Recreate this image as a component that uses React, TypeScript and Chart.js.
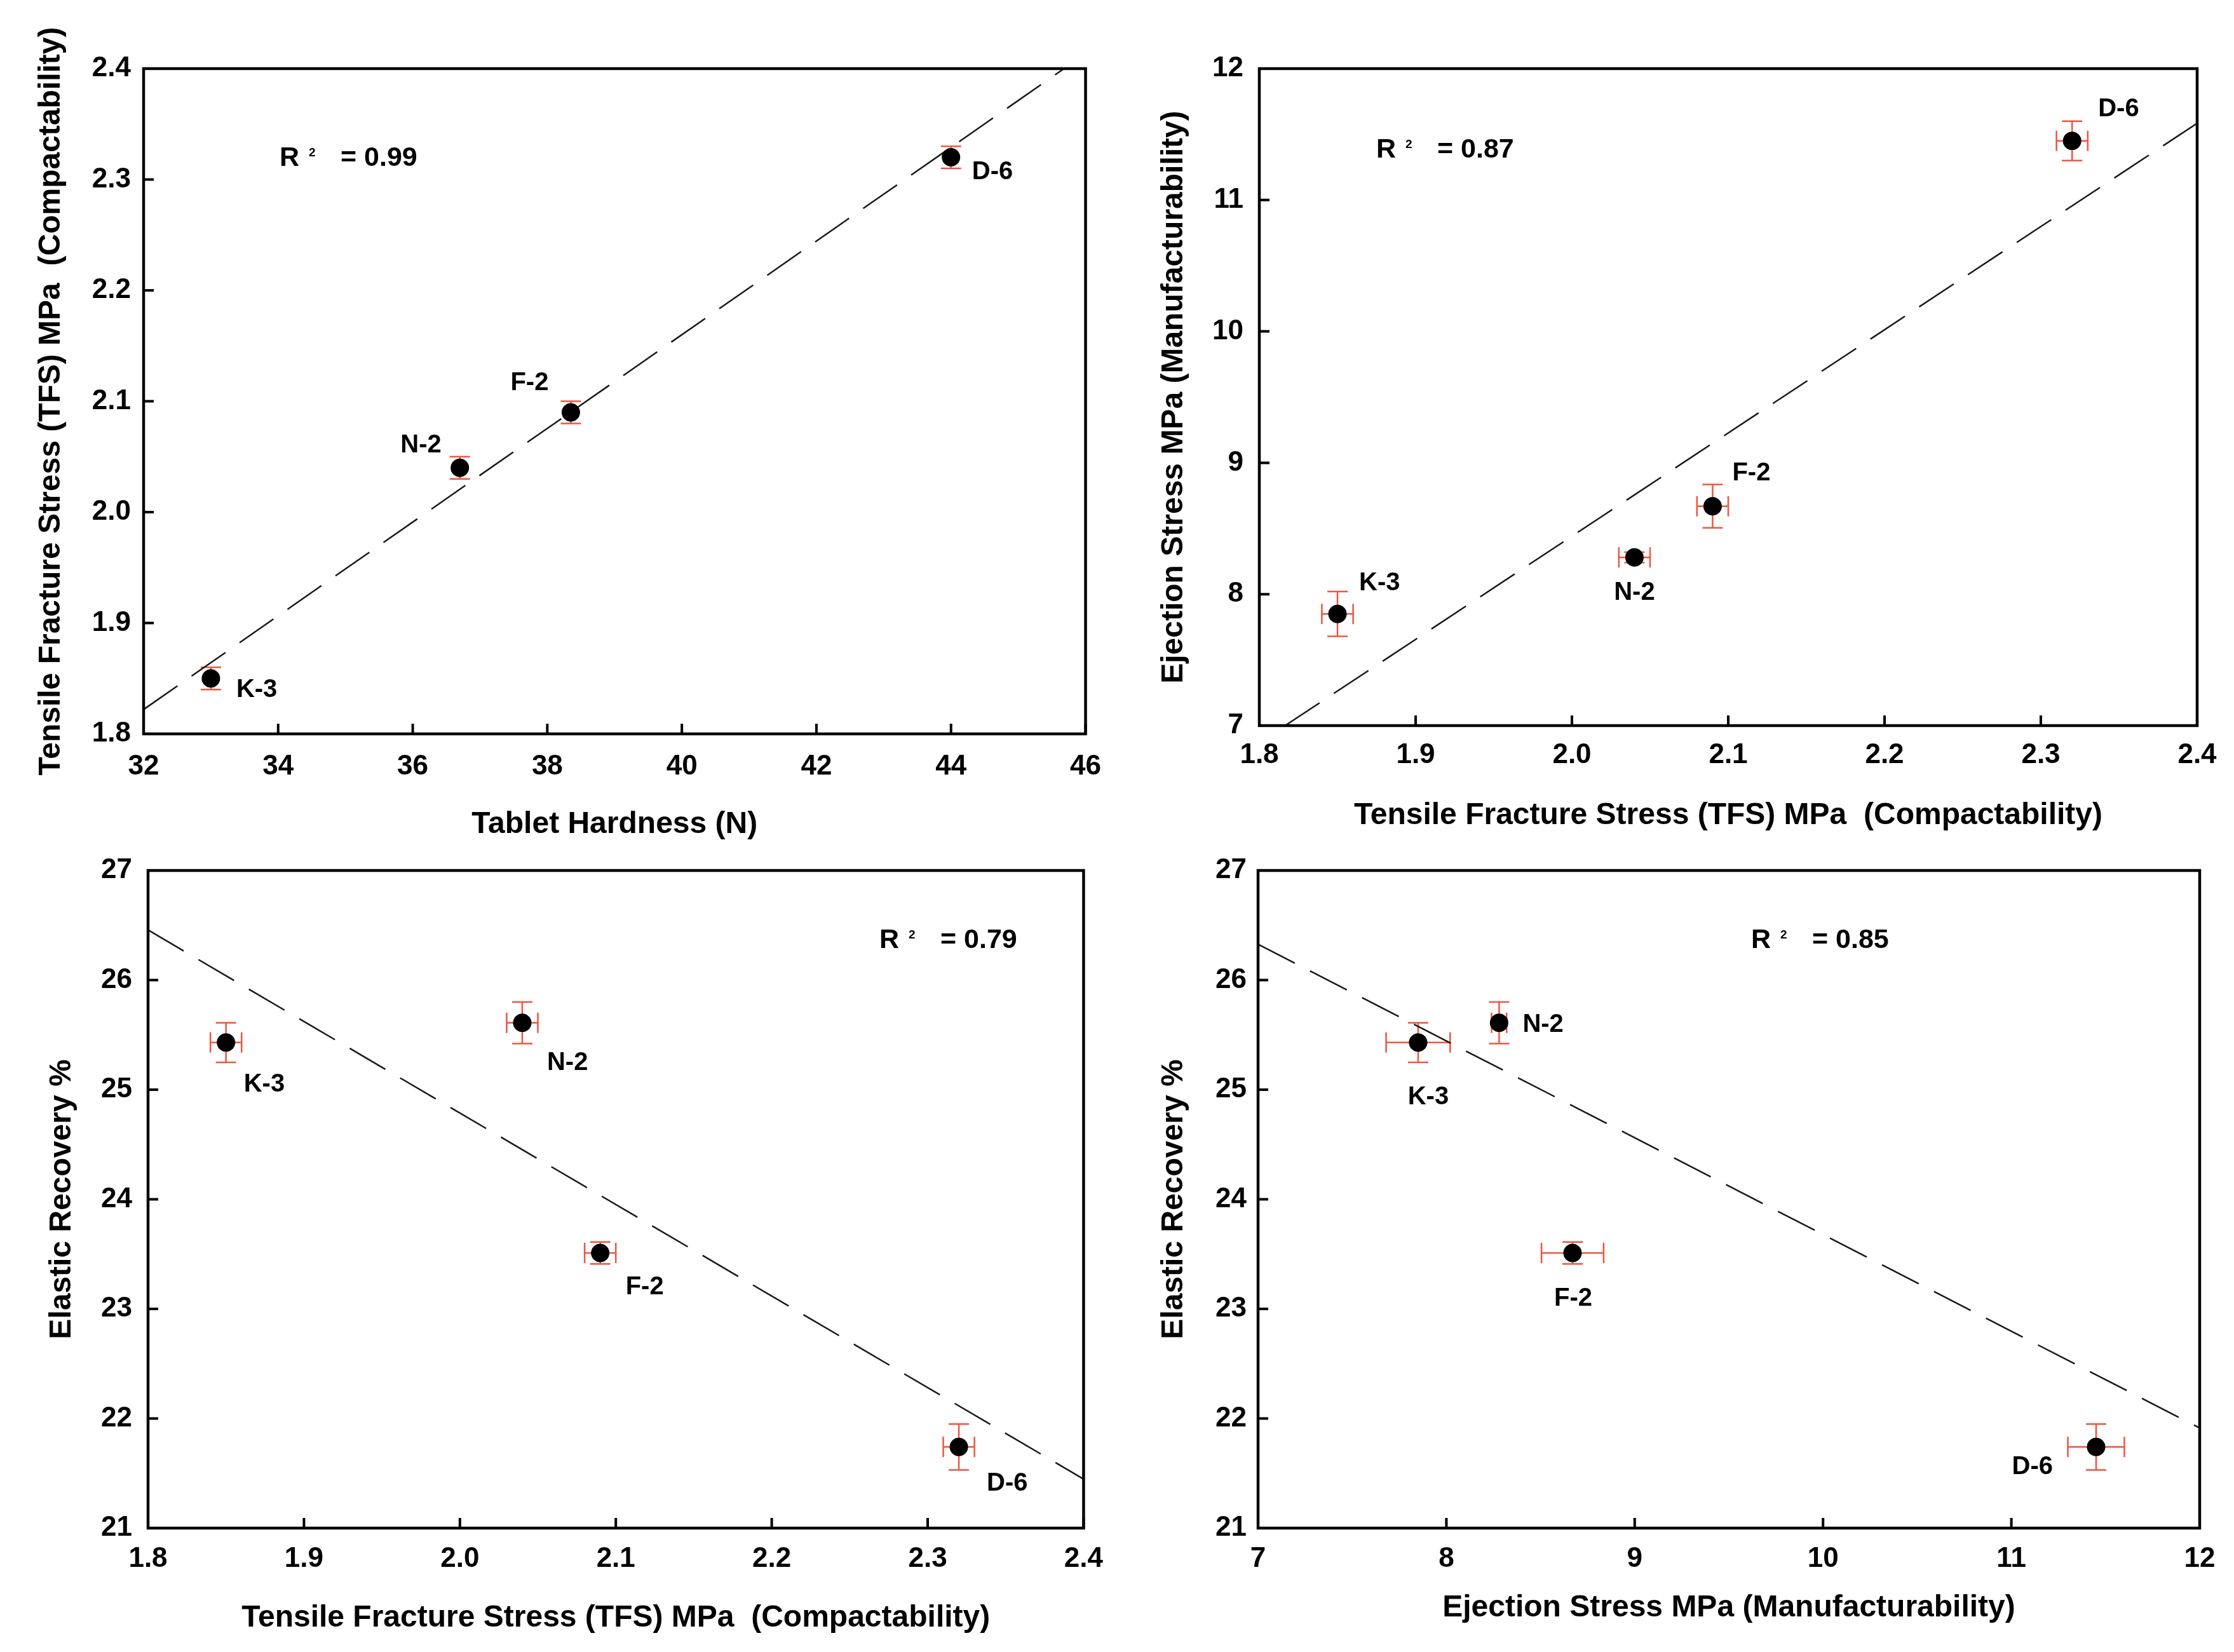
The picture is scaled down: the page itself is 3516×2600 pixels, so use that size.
import React, { useEffect, useRef } from "react";
import { Chart, registerables } from "chart.js";

Chart.register(...registerables);

// ---------- data ----------
const samples = ["K-3", "N-2", "F-2", "D-6"];

const tabletHardness = [33.0, 36.7, 38.35, 44.0];
const tabletHardnessErr = [0, 0, 0, 0];
const tfs = [1.85, 2.04, 2.09, 2.32];
const tfsErr = [0.01, 0.01, 0.01, 0.01];
const ejectionStress = [7.85, 8.28, 8.67, 11.45];
const ejectionStressErr = [0.17, 0.04, 0.165, 0.15];
const elasticRecovery = [25.43, 25.61, 23.51, 21.74];
const elasticRecoveryErr = [0.18, 0.19, 0.1, 0.21];

// dashed regression lines (end points)
const fitA_x = [32, 45.68];
const fitA_y = [1.822, 2.4];
const fitB_x = [1.8165, 2.4];
const fitB_y = [7.0, 11.584];
const fitC_x = [1.8, 2.4];
const fitC_y = [26.457, 21.447];
const fitD_x = [7, 12];
const fitD_y = [26.327, 21.913];

const r2Values = ["0.99", "0.87", "0.79", "0.85"];

const hardnessTicks = [32, 34, 36, 38, 40, 42, 44, 46];
const tfsTicks = [1.8, 1.9, 2.0, 2.1, 2.2, 2.3, 2.4];
const ejectionTicks = [7, 8, 9, 10, 11, 12];
const elasticTicks = [21, 22, 23, 24, 25, 26, 27];

const titleHardness = "Tablet Hardness (N)";
const titleTFS = "Tensile Fracture Stress (TFS) MPa  (Compactability)";
const titleEjection = "Ejection Stress MPa (Manufacturability)";
const titleElastic = "Elastic Recovery %";

type PanelData = {
  xs: number[];
  ys: number[];
  xErr: number[];
  yErr: number[];
  fitX: number[];
  fitY: number[];
  xTicks: number[];
  yTicks: number[];
  xDec: number;
  yDec: number;
  xTitle: string;
  yTitle: string;
  r2: string;
};

const panels: PanelData[] = [
  {
    xs: tabletHardness, ys: tfs, xErr: tabletHardnessErr, yErr: tfsErr,
    fitX: fitA_x, fitY: fitA_y, xTicks: hardnessTicks, yTicks: tfsTicks,
    xDec: 0, yDec: 1, xTitle: titleHardness, yTitle: titleTFS, r2: r2Values[0],
  },
  {
    xs: tfs, ys: ejectionStress, xErr: tfsErr, yErr: ejectionStressErr,
    fitX: fitB_x, fitY: fitB_y, xTicks: tfsTicks, yTicks: ejectionTicks,
    xDec: 1, yDec: 0, xTitle: titleTFS, yTitle: titleEjection, r2: r2Values[1],
  },
  {
    xs: tfs, ys: elasticRecovery, xErr: tfsErr, yErr: elasticRecoveryErr,
    fitX: fitC_x, fitY: fitC_y, xTicks: tfsTicks, yTicks: elasticTicks,
    xDec: 1, yDec: 0, xTitle: titleTFS, yTitle: titleElastic, r2: r2Values[2],
  },
  {
    xs: ejectionStress, ys: elasticRecovery, xErr: ejectionStressErr, yErr: elasticRecoveryErr,
    fitX: fitD_x, fitY: fitD_y, xTicks: ejectionTicks, yTicks: elasticTicks,
    xDec: 0, yDec: 0, xTitle: titleEjection, yTitle: titleElastic, r2: r2Values[3],
  },
];

// ---------- layout / style ----------
type Layout = {
  left: number; top: number; w: number; h: number;
  padTop: number; padRight: number; yW: number; xH: number;
  yTitlePad: number; xTitlePad: number; yTickPad: number; xTickPad: number;
  r2: [number, number];
  labels: [number, number, CanvasTextAlign][];
};

const layouts: Layout[] = [
  {
    left: 0, top: 0, w: 1758, h: 1340, padTop: 108, padRight: 38, yW: 226, xH: 185,
    yTitlePad: 52, xTitlePad: 13, yTickPad: 20, xTickPad: 25, r2: [214, 141],
    labels: [[40, 18, "left"], [-29, -35, "right"], [-35, -46, "right"], [33, 23, "left"]],
  },
  {
    left: 1758, top: 0, w: 1758, h: 1330, padTop: 108, padRight: 58, yW: 224, xH: 188,
    yTitlePad: 61, xTitlePad: 17, yTickPad: 25, xTickPad: 20, r2: [184, 128],
    labels: [[34, -48, "left"], [0, 56, "center"], [31, -52, "left"], [41, -50, "left"]],
  },
  {
    left: 0, top: 1300, w: 1758, h: 1300, padTop: 70, padRight: 46, yW: 233, xH: 195,
    yTitlePad: 69, xTitlePad: 24, yTickPad: 25, xTickPad: 22, r2: [1151, 110],
    labels: [[28, 66, "left"], [39, 63, "left"], [40, 54, "left"], [44, 58, "left"]],
  },
  {
    left: 1758, top: 1300, w: 1758, h: 1300, padTop: 70, padRight: 54, yW: 222, xH: 195,
    yTitlePad: 61, xTitlePad: 40, yTickPad: 18, xTickPad: 22, r2: [776, 110],
    labels: [[16, 86, "center"], [37, 3, "left"], [1, 72, "center"], [-68, 32, "right"]],
  },
];

const FONT = "'Liberation Sans', Arial, Helvetica, sans-serif";
const ERR_COLOR = "#ee5541";
const CAP = 16;
const TICK_LEN = 16;

function PanelChart({ data, layout }: { data: PanelData; layout: Layout }) {
  const ref = useRef<HTMLCanvasElement | null>(null);

  useEffect(() => {
    const canvas = ref.current;
    if (!canvas) return;

    const decorations = {
      id: "decorations",
      beforeDatasetsDraw(chart: any) {
        const { ctx } = chart;
        const xs = chart.scales.x;
        const ys = chart.scales.y;
        ctx.save();
        ctx.strokeStyle = ERR_COLOR;
        ctx.lineWidth = 2.5;
        data.xs.forEach((xv, i) => {
          const yv = data.ys[i];
          const px = xs.getPixelForValue(xv);
          const py = ys.getPixelForValue(yv);
          const ye = data.yErr[i];
          if (ye > 0) {
            const t = ys.getPixelForValue(yv + ye);
            const b = ys.getPixelForValue(yv - ye);
            ctx.beginPath();
            ctx.moveTo(px, t); ctx.lineTo(px, b);
            ctx.moveTo(px - CAP, t); ctx.lineTo(px + CAP, t);
            ctx.moveTo(px - CAP, b); ctx.lineTo(px + CAP, b);
            ctx.stroke();
          }
          const xe = data.xErr[i];
          if (xe > 0) {
            const l = xs.getPixelForValue(xv - xe);
            const r = xs.getPixelForValue(xv + xe);
            ctx.beginPath();
            ctx.moveTo(l, py); ctx.lineTo(r, py);
            ctx.moveTo(l, py - CAP); ctx.lineTo(l, py + CAP);
            ctx.moveTo(r, py - CAP); ctx.lineTo(r, py + CAP);
            ctx.stroke();
          }
        });
        ctx.restore();
      },
      afterDraw(chart: any) {
        const { ctx, chartArea } = chart;
        const xs = chart.scales.x;
        const ys = chart.scales.y;
        ctx.save();
        // frame
        ctx.strokeStyle = "#000";
        ctx.lineWidth = 4.5;
        ctx.strokeRect(chartArea.left, chartArea.top, chartArea.right - chartArea.left, chartArea.bottom - chartArea.top);
        // inward ticks
        ctx.lineWidth = 4;
        ctx.beginPath();
        data.xTicks.forEach((v) => {
          const p = xs.getPixelForValue(v);
          ctx.moveTo(p, chartArea.bottom);
          ctx.lineTo(p, chartArea.bottom - TICK_LEN);
        });
        data.yTicks.forEach((v) => {
          const p = ys.getPixelForValue(v);
          ctx.moveTo(chartArea.left, p);
          ctx.lineTo(chartArea.left + TICK_LEN, p);
        });
        ctx.stroke();

        // R^2 annotation
        ctx.fillStyle = "#000";
        ctx.textBaseline = "middle";
        ctx.textAlign = "left";
        const rx = chartArea.left + layout.r2[0];
        const ry = chartArea.top + layout.r2[1];
        ctx.font = `bold 43px ${FONT}`;
        ctx.fillText("R", rx, ry);
        ctx.font = `bold 19px ${FONT}`;
        ctx.fillText("2", rx + 46, ry - 8);
        ctx.font = `bold 43px ${FONT}`;
        ctx.fillText("= " + data.r2, rx + 96, ry);

        // point labels
        ctx.font = `bold 40px ${FONT}`;
        samples.forEach((s, i) => {
          const [dx, dy, al] = layout.labels[i];
          const px = xs.getPixelForValue(data.xs[i]);
          const py = ys.getPixelForValue(data.ys[i]);
          ctx.textAlign = al;
          ctx.fillText(s, px + dx, py + dy);
        });
        ctx.restore();
      },
    };

    const tickFont = { family: FONT, size: 44, weight: "bold" as const };
    const titleFont = { family: FONT, size: 48, weight: "bold" as const };

    const chart = new Chart(canvas, {
      type: "scatter",
      data: {
        datasets: [
          {
            label: "samples",
            data: data.xs.map((x, i) => ({ x, y: data.ys[i] })),
            backgroundColor: "#000",
            borderColor: "#000",
            pointRadius: 14.5,
            pointHoverRadius: 14.5,
            borderWidth: 0,
          },
          {
            label: "fit",
            type: "line",
            data: data.fitX.map((x, i) => ({ x, y: data.fitY[i] })),
            showLine: true,
            borderColor: "#1a1a1a",
            borderWidth: 2.5,
            borderDash: [65, 27],
            pointRadius: 0,
            fill: false,
          } as any,
        ],
      },
      options: {
        responsive: false,
        animation: false,
        layout: { padding: { top: layout.padTop, right: layout.padRight, left: 0, bottom: 0 } },
        plugins: {
          legend: { display: false },
          tooltip: { enabled: false },
          title: { display: false },
        },
        scales: {
          x: {
            type: "linear",
            position: "bottom",
            min: data.xTicks[0],
            max: data.xTicks[data.xTicks.length - 1],
            grid: { display: false, drawTicks: false },
            border: { display: false },
            afterBuildTicks: (s: any) => {
              s.ticks = data.xTicks.map((v) => ({ value: v }));
            },
            afterFit: (s: any) => {
              s.height = layout.xH;
            },
            ticks: {
              autoSkip: false,
              maxRotation: 0,
              minRotation: 0,
              color: "#000",
              font: tickFont,
              padding: layout.xTickPad,
              callback: (v: any) => Number(v).toFixed(data.xDec),
            },
            title: {
              display: true,
              text: data.xTitle,
              color: "#000",
              font: titleFont,
              padding: { top: 0, bottom: layout.xTitlePad },
            },
          },
          y: {
            type: "linear",
            position: "left",
            min: data.yTicks[0],
            max: data.yTicks[data.yTicks.length - 1],
            grid: { display: false, drawTicks: false },
            border: { display: false },
            afterBuildTicks: (s: any) => {
              s.ticks = data.yTicks.map((v) => ({ value: v }));
            },
            afterFit: (s: any) => {
              s.width = layout.yW;
            },
            ticks: {
              autoSkip: false,
              color: "#000",
              font: tickFont,
              padding: layout.yTickPad,
              callback: (v: any) => Number(v).toFixed(data.yDec),
            },
            title: {
              display: true,
              text: data.yTitle,
              color: "#000",
              font: titleFont,
              padding: { top: layout.yTitlePad, bottom: 0 },
            },
          },
        },
      },
      plugins: [decorations],
    });

    return () => chart.destroy();
  }, [data, layout]);

  return (
    <canvas
      ref={ref}
      width={layout.w}
      height={layout.h}
      style={{
        position: "absolute",
        left: layout.left,
        top: layout.top,
        width: layout.w,
        height: layout.h,
      }}
    />
  );
}

export default function App() {
  return (
    <div
      style={{
        position: "absolute",
        left: 0,
        top: 0,
        width: 3516,
        height: 2600,
        background: "#fff",
        overflow: "hidden",
      }}
    >
      {panels.map((p, i) => (
        <PanelChart key={i} data={p} layout={layouts[i]} />
      ))}
    </div>
  );
}
